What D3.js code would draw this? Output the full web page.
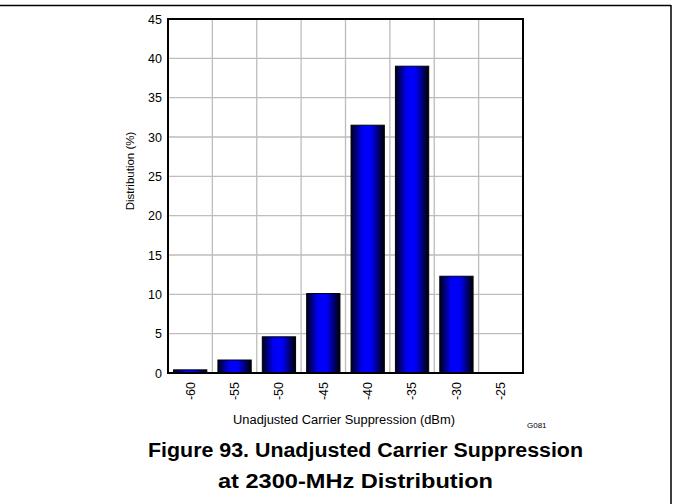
<!DOCTYPE html>
<html><head><meta charset="utf-8">
<script src="https://cdn.jsdelivr.net/npm/d3@7"></script>
<style>body{margin:0;background:#fff}svg{display:block}</style>
</head><body>
<script>
const categories = ["-60","-55","-50","-45","-40","-35","-30","-25"];
const values = [0.4, 1.65, 4.6, 10.1, 31.5, 39.0, 12.3, 0];
const yTicks = [0,5,10,15,20,25,30,35,40,45];

const W = 673, H = 504;
const svg = d3.select("body").append("svg").attr("width", W).attr("height", H);
const font = "Liberation Sans, Arial, sans-serif";

const defs = svg.append("defs");
const g = defs.append("linearGradient").attr("id","barGrad").attr("x1","0%").attr("x2","100%").attr("y1","0%").attr("y2","0%");
[[0,"#000018"],[0.33,"#0000f0"],[0.5,"#0000ff"],[0.62,"#0000f0"],[1,"#000000"]].forEach(([o,c])=>g.append("stop").attr("offset",o).attr("stop-color",c));

// page border
svg.append("line").attr("x1",0).attr("x2",671).attr("y1",5.5).attr("y2",5.5).attr("stroke","#000").attr("stroke-width",1.5);
svg.append("line").attr("x1",671).attr("x2",671).attr("y1",5).attr("y2",H).attr("stroke","#000").attr("stroke-width",1.5);

const L = 168, R = 523, T = 19, B = 373;
const x = d3.scaleBand().domain(categories).range([L,R]).paddingInner(0.25).paddingOuter(0.125);
const xb = d3.scaleBand().domain(categories).range([L,R]);
const y = d3.scaleLinear().domain([0,45]).range([B,T]);

// grid
svg.append("g").selectAll("line").data(yTicks).join("line")
  .attr("x1",L).attr("x2",R).attr("y1",d=>y(d)).attr("y2",d=>y(d))
  .attr("stroke","#bdbdbd").attr("stroke-width",1.3);
svg.append("g").selectAll("line").data(categories.slice(1)).join("line")
  .attr("x1",d=>xb(d)).attr("x2",d=>xb(d)).attr("y1",T).attr("y2",B)
  .attr("stroke","#bdbdbd").attr("stroke-width",1.3);

// bars
svg.append("g").selectAll("rect").data(categories.map((c,i)=>({c,v:values[i]})).filter(d=>d.v>0)).join("rect")
  .attr("x",d=>x(d.c)).attr("width",x.bandwidth())
  .attr("y",d=>y(d.v)).attr("height",d=>B-y(d.v))
  .attr("fill","url(#barGrad)").attr("stroke","#000").attr("stroke-width",1);

// frame
svg.append("rect").attr("x",L).attr("y",T).attr("width",R-L).attr("height",B-T)
  .attr("fill","none").attr("stroke","#000").attr("stroke-width",2);

// y tick labels
const yAxis = d3.axisLeft(y).tickValues(yTicks).tickSize(0).tickPadding(6);
const ya = svg.append("g").attr("transform",`translate(${L},0)`).call(yAxis);
ya.select(".domain").remove();
ya.selectAll("text").attr("font-family",font).attr("font-size",12.5).attr("fill","#000");

// x tick labels rotated
const xAxis = d3.axisBottom(xb).tickSize(0).tickPadding(0);
const xa = svg.append("g").attr("transform",`translate(0,${B})`).call(xAxis);
xa.select(".domain").remove();
xa.selectAll("text").attr("font-family",font).attr("font-size",12.5).attr("fill","#000")
  .attr("transform","rotate(-90)").attr("text-anchor","end").attr("x",-9).attr("y",0).attr("dy","0.35em");

// axis titles
svg.append("text").attr("transform","translate(134,171) rotate(-90)").attr("text-anchor","middle")
  .attr("font-family",font).attr("font-size",11.5).text("Distribution (%)");
svg.append("text").attr("x",344).attr("y",424).attr("text-anchor","middle")
  .attr("font-family",font).attr("font-size",12).attr("textLength",222).attr("lengthAdjust","spacingAndGlyphs").text("Unadjusted Carrier Suppression (dBm)");
svg.append("text").attr("x",527).attr("y",428)
  .attr("font-family",font).attr("font-size",8).text("G081");

// caption
svg.append("text").attr("x",365.5).attr("y",457).attr("text-anchor","middle")
  .attr("font-family",font).attr("font-size",19.5).attr("font-weight","bold")
  .attr("textLength",435).attr("lengthAdjust","spacingAndGlyphs").text("Figure 93. Unadjusted Carrier Suppression");
svg.append("text").attr("x",355.5).attr("y",488).attr("text-anchor","middle")
  .attr("font-family",font).attr("font-size",19.5).attr("font-weight","bold")
  .attr("textLength",275).attr("lengthAdjust","spacingAndGlyphs").text("at 2300-MHz Distribution");
</script>
</body></html>
